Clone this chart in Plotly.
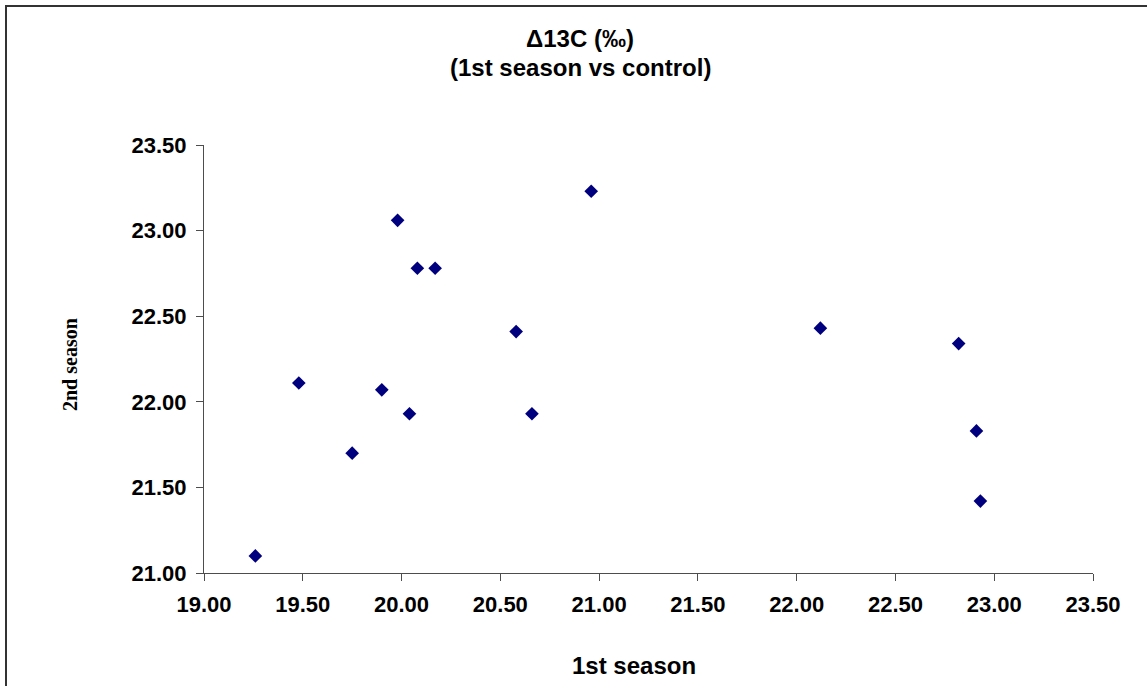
import plotly.graph_objects as go

# Δ13C values (‰) for each genotype: first season vs second season
first_season = [19.26, 19.48, 19.75, 19.90, 19.98, 20.04, 20.08, 20.17,
                20.58, 20.66, 20.96, 22.12, 22.82, 22.91, 22.93]
second_season = [21.10, 22.11, 21.70, 22.07, 23.06, 21.93, 22.78, 22.78,
                 22.41, 21.93, 23.23, 22.43, 22.34, 21.83, 21.42]

x_ticks = [19.0, 19.5, 20.0, 20.5, 21.0, 21.5, 22.0, 22.5, 23.0, 23.5]
y_ticks = [21.0, 21.5, 22.0, 22.5, 23.0, 23.5]

W, H = 1147, 686
L, R, T, B = 204, 54, 145, 113
pw, ph = W - L - R, H - T - B

def px_x(p):
    return (p - L) / pw

def px_y(p):
    return (H - B - p) / ph

fig = go.Figure(go.Scatter(
    x=first_season, y=second_season, mode="markers",
    marker=dict(symbol="diamond", size=10.5, color="#00007f",
                line=dict(width=0)),
    hoverinfo="x+y",
))

axis_font = dict(family="Liberation Sans, Arial, sans-serif", size=22,
                 color="#000000", weight="bold")

fig.update_xaxes(
    range=[19.0, 23.5], tickvals=x_ticks, tickformat=".2f",
    showgrid=False, zeroline=False, showline=True, linecolor="#4d4d4d", linewidth=1,
    ticks="outside", ticklen=7, tickcolor="#4d4d4d", tickfont=axis_font,
    ticklabelstandoff=5,
)
fig.update_yaxes(
    range=[21.0, 23.5], tickvals=y_ticks, tickformat=".2f",
    showgrid=False, zeroline=False, showline=True, linecolor="#4d4d4d", linewidth=1,
    ticks="outside", ticklen=7, tickcolor="#4d4d4d", tickfont=axis_font,
    ticklabelstandoff=5,
)

title_font = dict(family="Liberation Sans, Arial, sans-serif", size=24, color="#000000")

fig.update_layout(
    width=W, height=H,
    margin=dict(l=L, r=R, t=T, b=B),
    paper_bgcolor="white", plot_bgcolor="white",
    showlegend=False,
    annotations=[
        dict(text="<b>Δ13C (‰)</b>", x=px_x(580), y=px_y(38), xref="paper", yref="paper",
             showarrow=False, font=title_font, xanchor="center", yanchor="middle"),
        dict(text="<b>(1st season vs control)</b>", x=px_x(580), y=px_y(67), xref="paper",
             yref="paper", showarrow=False, font=title_font, xanchor="center", yanchor="middle"),
        dict(text="<b>1st season</b>", x=px_x(634), y=px_y(665), xref="paper", yref="paper",
             showarrow=False, font=title_font, xanchor="center", yanchor="middle"),
        dict(text="<b>2nd season</b>", x=px_x(70), y=px_y(365), xref="paper", yref="paper",
             showarrow=False, textangle=-90,
             font=dict(family="Liberation Serif, Times New Roman, serif", size=20, color="#000000"),
             xanchor="center", yanchor="middle"),
    ],
    shapes=[
        # chart-area frame (top and left edges visible, right/bottom run off the page)
        dict(type="rect", xref="paper", yref="paper",
             x0=px_x(6), x1=px_x(W + 10), y0=px_y(H + 10), y1=px_y(6),
             line=dict(color="#333333", width=2), fillcolor="rgba(0,0,0,0)", layer="below"),
    ],
)

fig.write_html("out.html")
